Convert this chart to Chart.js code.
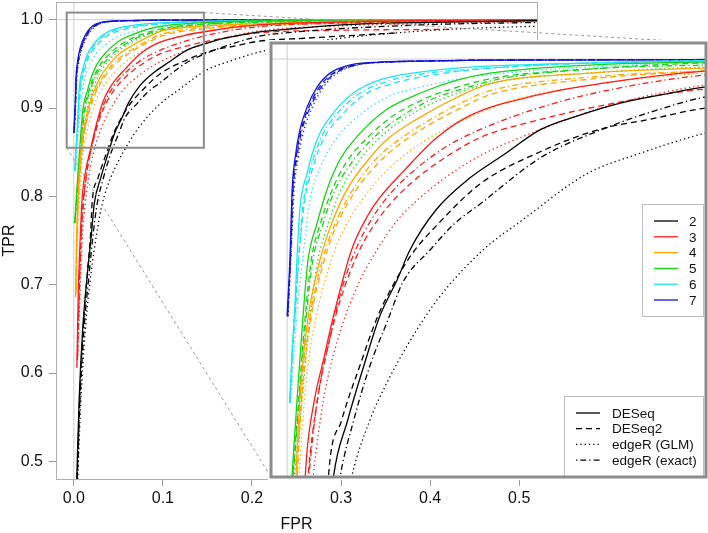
<!DOCTYPE html>
<html>
<head>
<meta charset="utf-8">
<script src="https://cdn.jsdelivr.net/npm/chart.js@4.4.1/dist/chart.umd.min.js"></script>
<style>
body { margin: 0; background: #fff; }
#wrap { position: relative; width: 708px; height: 533px; }
#mainChart { position: absolute; left: 0; top: 0; }
#zoomChart { position: absolute; left: 268px; top: 40px; }
</style>
</head>
<body>
<div id="wrap">
  <canvas id="mainChart" width="708" height="533"></canvas>
  <canvas id="zoomChart" width="441" height="440"></canvas>
</div>
<script>
// groups (number of samples) and methods
var sampleSizes = ['2', '3', '4', '5', '6', '7'];
var methodNames = ['DESeq', 'DESeq2', 'edgeR (GLM)', 'edgeR (exact)'];
var xTicks = [0, 0.1, 0.2, 0.3, 0.4, 0.5];
var yTicks = [0.5, 0.6, 0.7, 0.8, 0.9, 1.0];
// main plot limits, zoomed plot limits, zoom rectangle drawn in the main plot
var mainXLim = [0, 0.5];
var mainYLim = [0.5, 1.0];
var zoomXLim = [0, 0.2];
var zoomYLim = [0.8, 1.0];
var zoomBoxX = [-0.008, 0.146];
var zoomBoxY = [0.855, 1.008];

// ROC points [FPR, TPR], one curve per sample size (2..7)
var rocDESeq = [
  [[0.003,0.47],[0.006,0.57],[0.010,0.65],[0.015,0.71],[0.020,0.76],[0.023,0.792],[0.030,0.82],[0.038,0.847],[0.046,0.872],[0.0546,0.890],[0.061,0.905],[0.074,0.925],[0.091,0.941],[0.107,0.952],[0.126,0.965],[0.145,0.972],[0.165,0.978],[0.190,0.983],[0.207,0.986],[0.25,0.990],[0.30,0.994],[0.40,0.997],[0.53,0.999]],
  [[0.0034,0.606],[0.005,0.69],[0.0075,0.76],[0.0095,0.80],[0.0135,0.83],[0.018,0.85],[0.023,0.872],[0.032,0.905],[0.040,0.922],[0.046,0.931],[0.0576,0.944],[0.0744,0.961],[0.091,0.972],[0.124,0.982],[0.157,0.988],[0.207,0.994],[0.28,0.997],[0.40,0.999],[0.53,1.0]],
  [[0.002,0.686],[0.003,0.75],[0.0044,0.792],[0.007,0.84],[0.0105,0.872],[0.0163,0.900],[0.0213,0.916],[0.0297,0.935],[0.0412,0.951],[0.0496,0.960],[0.066,0.971],[0.0824,0.980],[0.100,0.9875],[0.15,0.993],[0.207,0.9955],[0.30,0.998],[0.53,1.0]],
  [[0.001,0.77],[0.0024,0.792],[0.0049,0.830],[0.0079,0.872],[0.0104,0.900],[0.0148,0.918],[0.0198,0.935],[0.0263,0.950],[0.0362,0.963],[0.0496,0.975],[0.066,0.983],[0.0844,0.9895],[0.1007,0.993],[0.15,0.997],[0.207,0.9985],[0.53,1.0]],
  [[0.0012,0.829],[0.0025,0.855],[0.004,0.880],[0.005,0.903],[0.0064,0.926],[0.0099,0.943],[0.0149,0.960],[0.0228,0.973],[0.0328,0.983],[0.046,0.9896],[0.066,0.9935],[0.091,0.996],[0.15,0.998],[0.25,0.9995],[0.53,1.0]],
  [[0.0,0.872],[0.0015,0.903],[0.0025,0.935],[0.004,0.951],[0.0064,0.965],[0.0099,0.976],[0.0149,0.986],[0.0213,0.993],[0.031,0.997],[0.046,0.9985],[0.066,0.999],[0.1,0.9995],[0.53,1.0]]
];
var rocDESeq2 = [
  [[0.0035,0.47],[0.0065,0.57],[0.0105,0.65],[0.015,0.71],[0.019,0.76],[0.0205,0.792],[0.027,0.82],[0.036,0.847],[0.045,0.872],[0.054,0.890],[0.062,0.903],[0.075,0.918],[0.096,0.938],[0.126,0.954],[0.155,0.965],[0.18,0.970],[0.207,0.9755],[0.26,0.979],[0.31,0.982],[0.363,0.985]],
  [[0.004,0.615],[0.006,0.69],[0.0085,0.76],[0.0104,0.792],[0.015,0.83],[0.021,0.86],[0.028,0.885],[0.036,0.905],[0.045,0.92],[0.055,0.932],[0.066,0.942],[0.080,0.952],[0.096,0.961],[0.126,0.970],[0.157,0.977],[0.207,0.985],[0.30,0.988],[0.422,0.989]],
  [[0.0025,0.69],[0.0035,0.75],[0.005,0.792],[0.008,0.84],[0.012,0.872],[0.0185,0.900],[0.024,0.916],[0.033,0.933],[0.045,0.948],[0.055,0.957],[0.070,0.967],[0.085,0.975],[0.100,0.982],[0.15,0.990],[0.207,0.994],[0.30,0.997],[0.53,0.999]],
  [[0.0012,0.77],[0.0028,0.792],[0.0057,0.830],[0.009,0.872],[0.012,0.900],[0.0165,0.918],[0.022,0.934],[0.029,0.948],[0.040,0.961],[0.053,0.972],[0.070,0.981],[0.088,0.987],[0.105,0.991],[0.15,0.995],[0.207,0.998],[0.53,1.0]],
  [[0.0014,0.829],[0.0028,0.855],[0.0045,0.880],[0.006,0.903],[0.0085,0.928],[0.0125,0.945],[0.018,0.960],[0.027,0.972],[0.038,0.982],[0.053,0.988],[0.072,0.992],[0.095,0.995],[0.15,0.998],[0.25,0.9995],[0.53,1.0]],
  [[0.0003,0.872],[0.0017,0.903],[0.0028,0.935],[0.0045,0.951],[0.007,0.965],[0.0108,0.976],[0.016,0.986],[0.023,0.993],[0.033,0.997],[0.048,0.9985],[0.068,0.999],[0.1,0.9995],[0.53,1.0]]
];
var rocEdgeRGLM = [
  [[0.004,0.47],[0.008,0.57],[0.013,0.65],[0.019,0.71],[0.026,0.76],[0.032,0.792],[0.041,0.82],[0.0496,0.839],[0.060,0.858],[0.0744,0.880],[0.0973,0.905],[0.117,0.920],[0.149,0.943],[0.175,0.953],[0.207,0.963],[0.25,0.972],[0.30,0.979],[0.35,0.984],[0.42,0.989],[0.53,0.993]],
  [[0.0045,0.62],[0.007,0.69],[0.010,0.76],[0.0129,0.792],[0.018,0.83],[0.025,0.86],[0.034,0.885],[0.0446,0.905],[0.055,0.92],[0.066,0.931],[0.080,0.942],[0.096,0.952],[0.126,0.965],[0.157,0.976],[0.207,0.987],[0.30,0.993],[0.42,0.996],[0.53,0.998]],
  [[0.003,0.70],[0.004,0.75],[0.006,0.792],[0.0095,0.84],[0.0145,0.872],[0.022,0.900],[0.028,0.915],[0.038,0.931],[0.050,0.945],[0.062,0.955],[0.078,0.965],[0.095,0.973],[0.110,0.979],[0.15,0.987],[0.207,0.993],[0.30,0.997],[0.53,0.999]],
  [[0.0015,0.77],[0.0035,0.792],[0.0074,0.830],[0.0114,0.872],[0.0153,0.900],[0.0198,0.916],[0.0263,0.934],[0.0362,0.950],[0.0496,0.964],[0.066,0.975],[0.0844,0.983],[0.1007,0.988],[0.15,0.993],[0.207,0.996],[0.53,0.999]],
  [[0.0018,0.829],[0.0035,0.855],[0.0055,0.880],[0.008,0.903],[0.0114,0.930],[0.0164,0.946],[0.0248,0.961],[0.0347,0.971],[0.0496,0.981],[0.066,0.986],[0.091,0.991],[0.15,0.996],[0.25,0.999],[0.53,1.0]],
  [[0.0005,0.872],[0.002,0.903],[0.0035,0.935],[0.0055,0.951],[0.0085,0.965],[0.0125,0.976],[0.018,0.986],[0.025,0.993],[0.035,0.997],[0.05,0.9985],[0.07,0.999],[0.1,0.9995],[0.53,1.0]]
];
var rocEdgeRExact = [
  [[0.0035,0.47],[0.007,0.57],[0.0115,0.65],[0.017,0.71],[0.022,0.76],[0.0263,0.792],[0.033,0.82],[0.041,0.847],[0.050,0.870],[0.0575,0.889],[0.071,0.905],[0.083,0.918],[0.096,0.928],[0.126,0.951],[0.159,0.966],[0.185,0.975],[0.207,0.981],[0.26,0.987],[0.32,0.991],[0.42,0.995],[0.53,0.997]],
  [[0.004,0.615],[0.006,0.69],[0.0085,0.76],[0.0108,0.792],[0.015,0.83],[0.021,0.86],[0.027,0.885],[0.034,0.905],[0.043,0.922],[0.053,0.935],[0.066,0.947],[0.080,0.957],[0.096,0.965],[0.126,0.976],[0.157,0.984],[0.207,0.992],[0.30,0.996],[0.42,0.998],[0.53,0.999]],
  [[0.0025,0.69],[0.0035,0.75],[0.005,0.792],[0.0075,0.84],[0.0115,0.872],[0.0175,0.900],[0.023,0.916],[0.032,0.934],[0.043,0.949],[0.053,0.958],[0.068,0.968],[0.084,0.977],[0.100,0.984],[0.15,0.991],[0.207,0.994],[0.30,0.996],[0.44,0.998]],
  [[0.0012,0.77],[0.003,0.792],[0.006,0.830],[0.0095,0.872],[0.0128,0.900],[0.0175,0.917],[0.023,0.933],[0.031,0.947],[0.042,0.960],[0.056,0.971],[0.072,0.980],[0.090,0.986],[0.105,0.990],[0.15,0.995],[0.207,0.997],[0.53,1.0]],
  [[0.0014,0.829],[0.0027,0.855],[0.0043,0.880],[0.0058,0.903],[0.008,0.928],[0.0115,0.945],[0.017,0.961],[0.025,0.973],[0.036,0.983],[0.050,0.989],[0.070,0.993],[0.093,0.995],[0.15,0.998],[0.25,0.9995],[0.53,1.0]],
  [[0.0003,0.872],[0.0018,0.903],[0.003,0.935],[0.0048,0.951],[0.0075,0.965],[0.0115,0.976],[0.017,0.986],[0.024,0.993],[0.034,0.997],[0.05,0.9985],[0.07,0.999],[0.1,0.9995],[0.53,1.0]]
];

var groupColors = ['#000000', '#ff1a1a', '#ffa500', '#14d414', '#1ee4ee', '#1414d2'];
var methodDash = [[], [6, 4], [1.3, 3], [1.3, 3, 6, 3]];
var axisGrey = '#b0b0b0';

Chart.defaults.font.family = '"Liberation Sans", Arial, sans-serif';
Chart.defaults.color = '#111';

function buildDatasets() {
    var series = [rocDESeq, rocDESeq2, rocEdgeRGLM, rocEdgeRExact];
    var sets = [];
    for (var g = 0; g < sampleSizes.length; g++) {
        for (var m = 0; m < series.length; m++) {
            sets.push({
                label: methodNames[m] + ' ' + sampleSizes[g],
                data: series[m][g].map(function (p) { return {x: p[0], y: p[1]}; }),
                borderColor: groupColors[g],
                borderDash: methodDash[m],
                borderWidth: 1.3,
                pointRadius: 0,
                showLine: true,
                fill: false,
                cubicInterpolationMode: 'monotone'
            });
        }
    }
    return sets;
}

// R style axis range: limits extended by 4%
function usr(lim) {
    var d = (lim[1] - lim[0]) * 0.04;
    return [lim[0] - d, lim[1] + d];
}

function refLines(chart) {
    var ctx = chart.ctx, a = chart.chartArea;
    var x0 = chart.scales.x.getPixelForValue(0);
    var y1 = chart.scales.y.getPixelForValue(1);
    ctx.save();
    ctx.strokeStyle = '#cfcfcf';
    ctx.lineWidth = 1;
    ctx.beginPath();
    ctx.moveTo(x0, a.top); ctx.lineTo(x0, a.bottom);
    ctx.moveTo(a.left, y1); ctx.lineTo(a.right, y1);
    ctx.stroke();
    ctx.restore();
}

// ---------- zoomed inset ----------
var zx = usr(zoomXLim), zy = usr(zoomYLim);
var zoomCanvas = document.getElementById('zoomChart');

function drawLegendBox(ctx, left, top, right, bottom) {
    ctx.fillStyle = '#fff';
    ctx.fillRect(left, top, right - left, bottom - top);
    ctx.strokeStyle = '#bdbdbd';
    ctx.lineWidth = 1;
    ctx.setLineDash([]);
    ctx.strokeRect(left + 0.5, top + 0.5, right - left, bottom - top);
}

var insetPlugin = {
    id: 'inset',
    beforeDraw: function (chart) {
        var ctx = chart.ctx;
        ctx.save();
        ctx.fillStyle = '#fff';
        ctx.fillRect(0, 0, chart.width, chart.height);
        ctx.restore();
    },
    beforeDatasetsDraw: refLines,
    afterDraw: function (chart) {
        var ctx = chart.ctx, a = chart.chartArea;
        ctx.save();
        ctx.font = '13.5px "Liberation Sans", Arial, sans-serif';
        ctx.textBaseline = 'middle';
        ctx.textAlign = 'left';

        // legend: sample size colours
        var l1 = a.right - 64, t1 = a.top + 161;
        drawLegendBox(ctx, l1, t1, a.right - 3, t1 + 112);
        for (var i = 0; i < sampleSizes.length; i++) {
            var yy = t1 + 17 + i * 15.8;
            ctx.strokeStyle = groupColors[i];
            ctx.lineWidth = 1.3;
            ctx.beginPath(); ctx.moveTo(l1 + 12, yy); ctx.lineTo(l1 + 36, yy); ctx.stroke();
            ctx.fillStyle = '#111';
            ctx.fillText(sampleSizes[i], l1 + 47, yy + 1);
        }

        // legend: methods / line types
        var l2 = a.right - 142, t2 = a.top + 353;
        drawLegendBox(ctx, l2, t2, a.right - 3, a.bottom);
        for (var j = 0; j < methodNames.length; j++) {
            var y2 = t2 + 17 + j * 15.7;
            ctx.strokeStyle = '#000';
            ctx.lineWidth = 1.3;
            ctx.setLineDash(methodDash[j]);
            ctx.beginPath(); ctx.moveTo(l2 + 12, y2); ctx.lineTo(l2 + 36, y2); ctx.stroke();
            ctx.setLineDash([]);
            ctx.fillStyle = '#111';
            ctx.fillText(methodNames[j], l2 + 48, y2 + 1);
        }

        // thick frame
        ctx.strokeStyle = '#8c8c8c';
        ctx.lineWidth = 3;
        ctx.strokeRect(a.left, a.top, a.right - a.left, a.bottom - a.top);
        ctx.restore();
    }
};

var zoomChart = new Chart(zoomCanvas.getContext('2d'), {
    type: 'scatter',
    data: {datasets: buildDatasets()},
    options: {
        responsive: false,
        animation: false,
        layout: {padding: 3},
        plugins: {legend: {display: false}, tooltip: {enabled: false}},
        scales: {
            x: {type: 'linear', display: false, min: zx[0], max: zx[1]},
            y: {type: 'linear', display: false, min: zy[0], max: zy[1]}
        }
    },
    plugins: [insetPlugin]
});

// ---------- main plot ----------
var mx = usr(mainXLim), my = usr(mainYLim);

var mainPlugin = {
    id: 'mainDecor',
    beforeDatasetsDraw: refLines,
    afterDatasetsDraw: function (chart) {
        var ctx = chart.ctx, a = chart.chartArea;
        var sx = chart.scales.x, sy = chart.scales.y;
        ctx.save();
        // plot frame
        ctx.strokeStyle = axisGrey;
        ctx.lineWidth = 1;
        ctx.strokeRect(a.left + 0.5, a.top + 0.5, a.right - a.left, a.bottom - a.top);

        // zoom rectangle
        var bl = sx.getPixelForValue(zoomBoxX[0]), br = sx.getPixelForValue(zoomBoxX[1]);
        var bt = sy.getPixelForValue(zoomBoxY[1]), bb = sy.getPixelForValue(zoomBoxY[0]);
        ctx.strokeStyle = '#8c8c8c';
        ctx.lineWidth = 2;
        ctx.strokeRect(bl, bt, br - bl, bb - bt);

        // connectors to the inset corners
        var za = zoomChart.chartArea;
        var ox = zoomCanvas.offsetLeft, oy = zoomCanvas.offsetTop;
        ctx.strokeStyle = '#9a9a9a';
        ctx.lineWidth = 1;
        ctx.setLineDash([3, 3]);
        ctx.beginPath();
        ctx.moveTo(br, bt); ctx.lineTo(ox + za.right, oy + za.top);
        ctx.moveTo(bl, bb); ctx.lineTo(ox + za.left, oy + za.bottom);
        ctx.stroke();
        ctx.restore();
    }
};

var mainChart = new Chart(document.getElementById('mainChart').getContext('2d'), {
    type: 'scatter',
    data: {datasets: buildDatasets()},
    options: {
        responsive: false,
        animation: false,
        layout: {padding: {left: 0, right: 171, top: 2, bottom: 0}},
        plugins: {legend: {display: false}, tooltip: {enabled: false}},
        scales: {
            x: {
                type: 'linear', min: mx[0], max: mx[1],
                afterBuildTicks: function (s) { s.ticks = xTicks.map(function (v) { return {value: v}; }); },
                afterFit: function (s) { s.height = 54; s.paddingLeft = 0; s.paddingRight = 0; },
                ticks: {callback: function (v) { return v.toFixed(1); }, font: {size: 16}, color: '#111', padding: 3, maxRotation: 0, autoSkip: false},
                grid: {drawOnChartArea: false, tickLength: 7, color: '#999'},
                border: {color: axisGrey},
                title: {display: true, text: 'FPR', font: {size: 16}, color: '#111', padding: {top: 0, bottom: -1}}
            },
            y: {
                type: 'linear', min: my[0], max: my[1],
                afterBuildTicks: function (s) { s.ticks = yTicks.map(function (v) { return {value: v}; }); },
                afterFit: function (s) { s.width = 56; s.paddingTop = 0; s.paddingBottom = 0; },
                ticks: {callback: function (v) { return v.toFixed(1); }, font: {size: 16}, color: '#111', padding: 6, autoSkip: false},
                grid: {drawOnChartArea: false, tickLength: 7, color: '#999'},
                border: {color: axisGrey},
                title: {display: true, text: 'TPR', font: {size: 16}, color: '#111', padding: 0}
            }
        }
    },
    plugins: [mainPlugin]
});
</script>
</body>
</html>
